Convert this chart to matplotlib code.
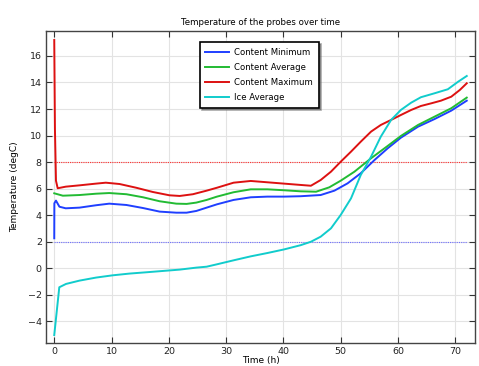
import matplotlib
matplotlib.use("Agg")
import matplotlib.pyplot as plt

# ---------------- Data ----------------
t_min = [0, 0.02, 0.3, 0.9, 2, 4.4, 7.3, 9.6, 12.6, 15.5, 18.4, 21.3, 23.1, 24.8,
         26.6, 28.4, 31.3, 34.3, 37.2, 40.1, 43, 46.5, 48.9, 51.2, 53.5, 55.9,
         58.2, 60.5, 63.5, 66.4, 69.3, 72]
content_min = [2.26, 4.9, 5.1, 4.64, 4.52, 4.57, 4.75, 4.87, 4.77, 4.54, 4.27, 4.19,
               4.19, 4.32, 4.57, 4.82, 5.15, 5.35, 5.4, 5.4, 5.43, 5.52, 5.85, 6.4,
               7.16, 8.16, 9.04, 9.84, 10.67, 11.25, 11.88, 12.63]

t_avg = [0, 1.5, 4.4, 7.3, 9.6, 12.6, 15.5, 18.4, 21.3, 23.1, 24.8, 26.6, 28.4,
         31.3, 34.3, 37.2, 40.1, 43, 45.7, 48, 50, 52.4, 55.3, 58.2, 60.5, 63.5,
         66.4, 69.3, 72]
content_avg = [5.65, 5.47, 5.52, 5.62, 5.67, 5.58, 5.35, 5.05, 4.87, 4.85, 4.95, 5.15,
               5.4, 5.73, 5.95, 5.95, 5.88, 5.8, 5.77, 6.1, 6.6, 7.28, 8.29, 9.22,
               9.97, 10.8, 11.43, 12.06, 12.86]

t_max = [0, 0.12, 0.3, 0.6, 2, 4.4, 7.3, 9, 11.4, 14.3, 17.2, 20.1, 21.9, 24.2,
         26.6, 28.4, 31.3, 34.3, 37.2, 40.1, 43, 44.8, 46.5, 48.3, 50, 51.8, 53.5,
         55.3, 57, 58.8, 60.5, 62.3, 64, 65.8, 67.5, 69.3, 70.8, 72]
content_max = [17.2, 10.5, 6.6, 6.03, 6.15, 6.25, 6.38, 6.45, 6.35, 6.07, 5.75, 5.5,
               5.45, 5.58, 5.85, 6.07, 6.45, 6.58, 6.48, 6.38, 6.28, 6.22, 6.65, 7.28,
               8.03, 8.79, 9.54, 10.3, 10.8, 11.18, 11.55, 11.93, 12.23, 12.43, 12.63,
               12.93, 13.44, 13.94]

t_ice = [0, 0.88, 2.05, 4.4, 7.3, 10.2, 13.1, 16.1, 19, 21.9, 24.8, 26.6, 28.4,
         31.3, 34.3, 37.2, 40.1, 43, 44.8, 46.5, 48.3, 50, 51.8, 53.5, 55.3, 57,
         58.8, 60.5, 62.3, 64, 66.4, 68.7, 70.5, 72]
ice_avg = [-5.03, -1.43, -1.18, -0.93, -0.7, -0.53, -0.4, -0.3, -0.2, -0.1, 0.05,
           0.12, 0.3, 0.6, 0.9, 1.15, 1.42, 1.74, 2.0, 2.38, 3.01, 4.02, 5.27, 7.03,
           8.41, 9.92, 11.18, 11.93, 12.48, 12.89, 13.19, 13.49, 14.06, 14.49]

limit_t = [0, 72]
upper_limit = 8
lower_limit = 2

# ---------------- Plot ----------------
fig = plt.figure(figsize=(4.79, 3.66), dpi=100)
ax = fig.add_axes([46 / 479, 1 - 343 / 366, 429 / 479, 312 / 366])

ax.plot(limit_t, [upper_limit] * 2, color="#ff3030", lw=0.8, ls=(0, (1, 1)))
ax.plot(limit_t, [lower_limit] * 2, color="#7070ff", lw=0.8, ls=(0, (1, 1)))

ax.plot(t_min, content_min, color="#1f3fff", lw=1.4, label="Content Minimum")
ax.plot(t_avg, content_avg, color="#22bb33", lw=1.4, label="Content Average")
ax.plot(t_max, content_max, color="#dd1111", lw=1.4, label="Content Maximum")
ax.plot(t_ice, ice_avg, color="#11cccc", lw=1.4, label="Ice Average")

ax.set_xlim(-1.44, 73.44)
ax.set_ylim(-5.63, 17.88)
ax.set_xticks(range(0, 80, 10))
ax.set_yticks(range(-4, 18, 2))
ax.grid(True, color="#e3e3e3", lw=0.8)
ax.set_axisbelow(True)
ax.tick_params(direction="in", top=True, right=True, labelsize=6.8, length=4,
               pad=3, color="#333333", labelcolor="#222222")
for s in ax.spines.values():
    s.set_color("#444444")
    s.set_linewidth(1.0)

ax.set_title("Temperature of the probes over time", fontsize=6.2, pad=4)
ax.set_xlabel("Time (h)", fontsize=6.5, labelpad=0)
ax.set_ylabel("Temperature (degC)", fontsize=6.5, labelpad=6)

leg = ax.legend(loc="upper left", bbox_to_anchor=(0.348, 0.978), fontsize=6.1,
                fancybox=False, shadow={"ox": 1.5, "oy": -1.5, "color": "#555555"},
                frameon=True, handlelength=2.8, handletextpad=0.6,
                borderpad=0.7, labelspacing=0.7)
leg.get_frame().set_edgecolor("black")
leg.get_frame().set_linewidth(1.2)

plt.savefig("out.png", dpi=100)
